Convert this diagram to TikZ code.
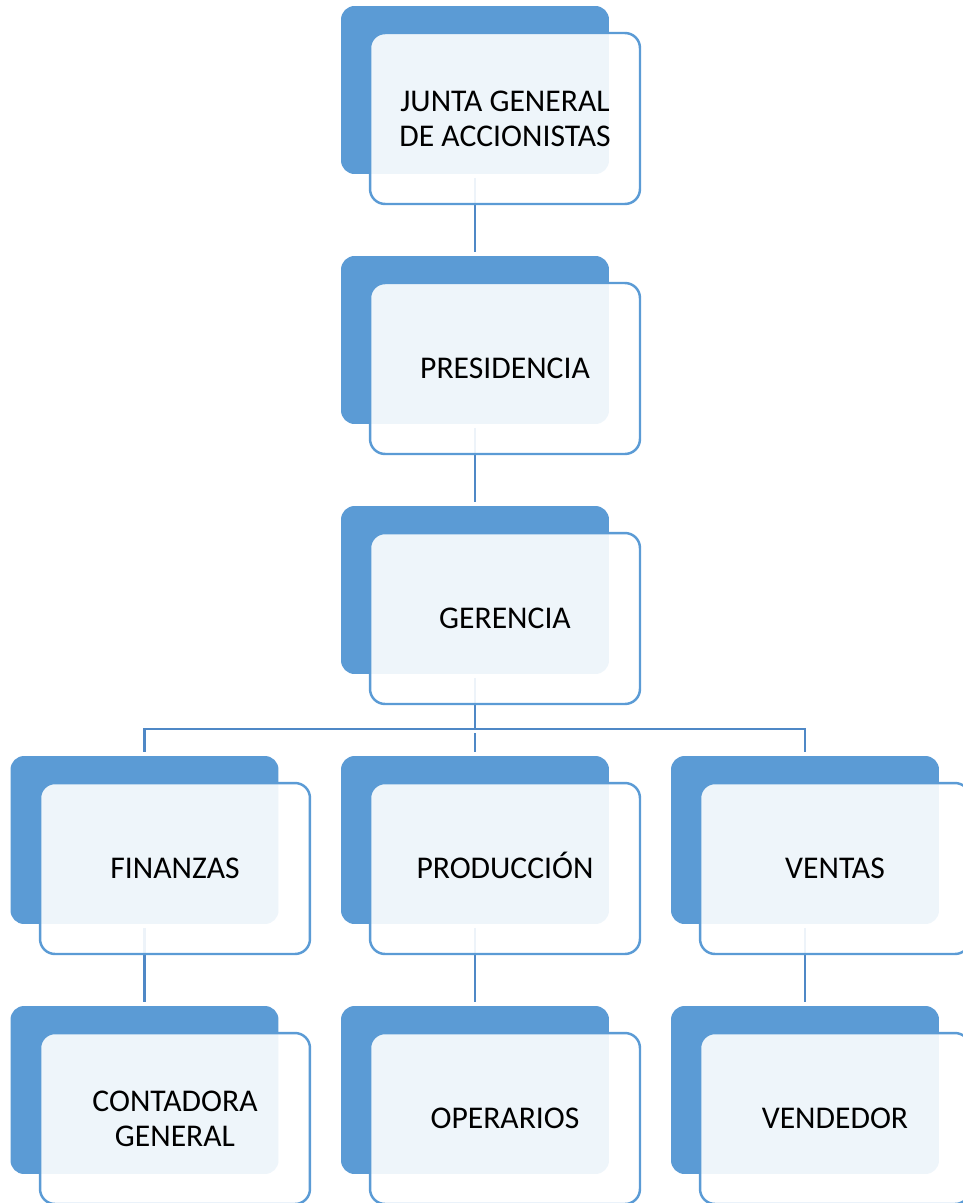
\documentclass[tikz,border=0pt]{standalone}
\usepackage{fontspec}
\setmainfont{Carlito}
\definecolor{boxblue}{HTML}{5B9BD5}
\definecolor{lineblue}{HTML}{4F88C6}

\begin{document}
\begin{tikzpicture}[x=0.02cm,y=-0.02cm,
		back/.style={fill=boxblue,rounded corners=0.27cm,minimum width=5.36cm,minimum height=3.36cm,inner sep=0pt,outer sep=0pt},
		front/.style={draw=boxblue,line width=1.4pt,fill=white,fill opacity=0.9,text opacity=1,rounded corners=0.3cm,minimum width=5.4cm,minimum height=3.42cm,inner sep=0pt,outer sep=0pt,align=center,font=\fontsize{18}{19.8}\selectfont},
		link/.style={draw=lineblue,line width=1.4pt,shorten <=2.3pt,shorten >=2.3pt}]
		\useasboundingbox (0,0) rectangle (963,1203);
		\node[back] (junta-b) at (475,90) {};
		\node[back] (presid-b) at (475,340) {};
		\node[back] (geren-b) at (475,590) {};
		\node[back] (finan-b) at (144.5,840) {};
		\node[back] (produ-b) at (475,840) {};
		\node[back] (venta-b) at (805,840) {};
		\node[back] (conta-b) at (144.5,1090) {};
		\node[back] (opera-b) at (475,1090) {};
		\node[back] (vende-b) at (805,1090) {};
		\coordinate (bar) at (475,729);
		\draw[link] (junta-b.south) -- (presid-b.north);
		\draw[link] (presid-b.south) -- (geren-b.north);
		\draw[link,shorten >=0pt] (geren-b.south) -- (bar);
		\draw[link] (bar) -- (produ-b.north);
		\draw[link] (finan-b.north) |- (bar) -| (venta-b.north);
		\draw[link] (finan-b.south) -- (conta-b.north);
		\draw[link] (produ-b.south) -- (opera-b.north);
		\draw[link] (venta-b.south) -- (vende-b.north);
		\node[front] (junta) at (505,118.5) {JUNTA GENERAL\\DE ACCIONISTAS};
		\node[front] (presid) at (505,368.5) {PRESIDENCIA};
		\node[front] (geren) at (505,618.5) {GERENCIA};
		\node[front] (finan) at (175,868.5) {FINANZAS};
		\node[front] (produ) at (505,868.5) {PRODUCCI\smash{Ó}N};
		\node[front] (venta) at (835,868.5) {VENTAS};
		\node[front] (conta) at (175,1118.5) {CONTADORA\\GENERAL};
		\node[front] (opera) at (505,1118.5) {OPERARIOS};
		\node[front] (vende) at (835,1118.5) {VENDEDOR};
	\end{tikzpicture}
\end{document}
